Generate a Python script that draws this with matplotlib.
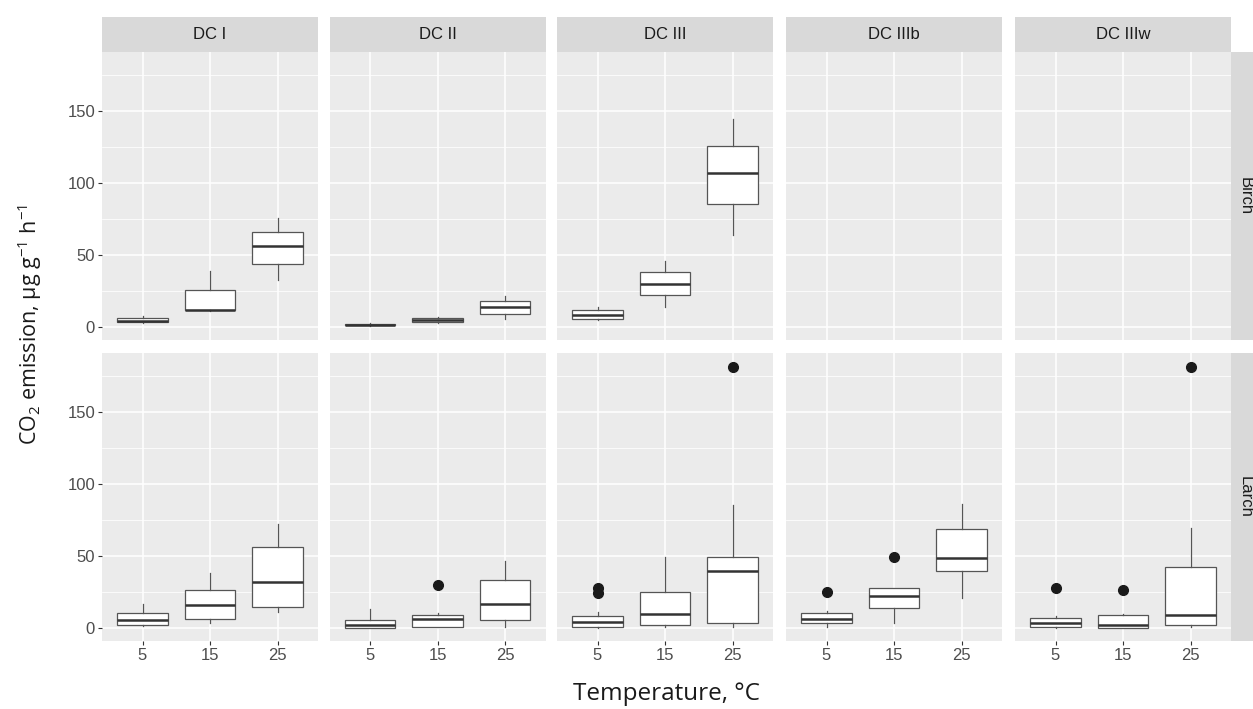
import matplotlib
matplotlib.use("Agg")
import matplotlib.pyplot as plt
from matplotlib.patches import Rectangle

# facets and categories
decay_classes = ["DC I", "DC II", "DC III", "DC IIIb", "DC IIIw"]
species = ["Birch", "Larch"]
temps = ["5", "15", "25"]

# box statistics (None = empty panel)
birch_lo = [[3, 11, 33], [1, 2.5, 5.3], [4.9, 13.9, 63.9], None, None]
birch_q1 = [[3.3, 11.5, 44], [1.2, 3.5, 9.3], [5.8, 22, 85.2], None, None]
birch_med = [[4.2, 12, 56], [1.6, 5, 13.9], [8.3, 30.1, 106.9], None, None]
birch_q3 = [[6, 25.7, 65.7], [2, 6.2, 17.8], [11.8, 38.2, 125.5], None, None]
birch_hi = [[8, 39, 75.5], [2.5, 7.2, 21.8], [14.1, 45.6, 144.2], None, None]
birch_out = [[[], [], []], [[], [], []], [[], [], []], None, None]

larch_lo = [[1.4, 3.7, 11.3], [0, 0.5, 0.9], [0, 0.5, 0.8], [0.9, 3.7, 20.6], [0, 0, 0.5]]
larch_q1 = [[2.1, 6, 14.8], [0.3, 0.9, 5.6], [0.9, 2.1, 3.2], [3.2, 13.7, 39.6], [0.5, 0.3, 1.9]]
larch_med = [[5.3, 16, 32.2], [2.3, 6, 16.4], [4.4, 10, 39.4], [6.5, 22.2, 48.4], [3.7, 2.1, 9]]
larch_q3 = [[10.2, 26.6, 56.3], [5.6, 9.3, 33.3], [8.1, 24.8, 49.3], [10.2, 27.5, 68.5], [6.7, 9, 42.4]]
larch_hi = [[16.4, 38, 72], [13, 10.2, 46.8], [11.3, 49, 85.6], [12, 27.5, 85.9], [8.3, 9.5, 69.2]]
larch_out = [[[], [], []], [[], [29.9], []], [[24.5, 27.6], [], [181]],
             [[25.2], [49.5], []], [[28], [26.4], [181]]]

plt.rcParams["mathtext.fontset"] = "custom"
plt.rcParams["mathtext.rm"] = "Open Sans"
plt.rcParams["mathtext.it"] = "Open Sans:italic"

W, H = 1253, 709
fig = plt.figure(figsize=(W / 100, H / 100), dpi=100)

col_left = [102, 329.5, 557, 786, 1015]
panel_w = 216
row_top = [52, 353]
panel_h = 288
strip_h = 35

tick_font = ["Liberation Sans", "DejaVu Sans"]
title_font = ["Open Sans", "DejaVu Sans"]


def fx(px):
    return px / W


def fy(py):
    return 1 - py / H


series = [
    (birch_lo, birch_q1, birch_med, birch_q3, birch_hi, birch_out),
    (larch_lo, larch_q1, larch_med, larch_q3, larch_hi, larch_out),
]

for r, sp in enumerate(species):
    lo, q1, med, q3, hi, out = series[r]
    for c, dc in enumerate(decay_classes):
        ax = fig.add_axes([fx(col_left[c]), fy(row_top[r] + panel_h),
                           fx(panel_w), panel_h / H])
        ax.set_facecolor("#EBEBEB")
        for s in ax.spines.values():
            s.set_visible(False)

        if lo[c] is not None:
            stats = []
            for i in range(len(temps)):
                stats.append(dict(whislo=lo[c][i], q1=q1[c][i], med=med[c][i],
                                  q3=q3[c][i], whishi=hi[c][i], fliers=out[c][i]))
            ax.bxp(stats, positions=[1, 2, 3], widths=0.75, patch_artist=True,
                   showcaps=False, manage_ticks=False,
                   boxprops=dict(facecolor="white", edgecolor="#555555", lw=0.9),
                   whiskerprops=dict(color="#555555", lw=0.9),
                   medianprops=dict(color="#333333", lw=1.8),
                   flierprops=dict(marker="o", markerfacecolor="#1A1A1A",
                                   markeredgecolor="#1A1A1A", markersize=7))

        ax.set_xlim(0.4, 3.6)
        ax.set_ylim(-9, 191)
        ax.set_xticks([1, 2, 3])
        ax.set_xticklabels(temps, family=tick_font)
        ax.set_yticks([0, 50, 100, 150])
        ax.set_yticks([25, 75, 125, 175], minor=True)
        for lab in ax.get_yticklabels():
            lab.set_family(tick_font)
        ax.set_axisbelow(True)
        ax.grid(which="major", color="white", lw=1.1)
        ax.grid(which="minor", axis="y", color="white", lw=0.55)
        ax.tick_params(which="major", length=3, width=0.8, color="#333333",
                       labelcolor="#4D4D4D", labelsize=12, pad=2)
        ax.tick_params(which="minor", length=0)
        if c > 0:
            ax.tick_params(axis="y", left=False, labelleft=False)
        if r == 0:
            ax.tick_params(axis="x", bottom=False, labelbottom=False)

        # top strips
        if r == 0:
            fig.add_artist(Rectangle((fx(col_left[c]), fy(row_top[0])), fx(panel_w),
                                     strip_h / H, transform=fig.transFigure,
                                     facecolor="#D9D9D9", edgecolor="none"))
            fig.text(fx(col_left[c] + panel_w / 2), fy(row_top[0] - strip_h / 2), dc,
                     ha="center", va="center", fontsize=12, color="#1A1A1A",
                     family=tick_font)

    # right strips (run off the right edge, as in the original)
    x_strip = col_left[-1] + panel_w
    fig.add_artist(Rectangle((fx(x_strip), fy(row_top[r] + panel_h)), fx(strip_h),
                             panel_h / H, transform=fig.transFigure,
                             facecolor="#D9D9D9", edgecolor="none"))
    fig.text(fx(x_strip + 7), fy(row_top[r] + panel_h / 2), sp,
             ha="left", va="center", rotation=-90, fontsize=12,
             color="#1A1A1A", family=tick_font)

fig.text(fx(667), fy(694), "Temperature, °C", ha="center", va="center",
         fontsize=17.5, color="#1A1A1A", family=title_font)
fig.text(fx(30), fy(325), "CO$_2$ emission, µg g$^{-1}$ h$^{-1}$", ha="center",
         va="center", rotation=90, fontsize=15.5, color="#1A1A1A",
         family=title_font)

fig.savefig("out.png", dpi=100)
